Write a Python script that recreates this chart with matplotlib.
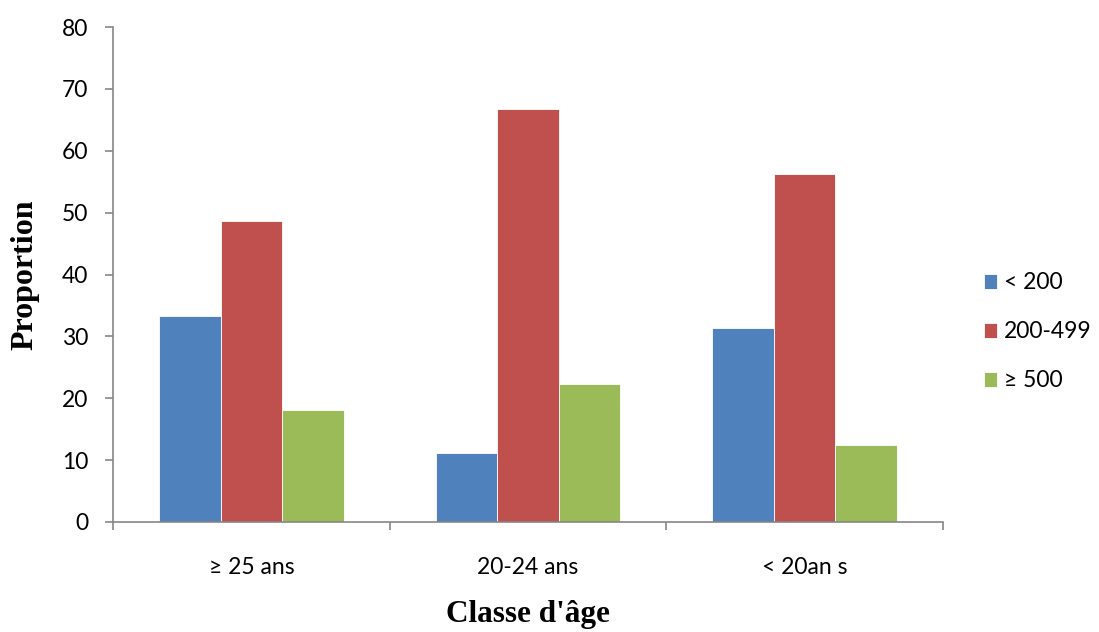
import matplotlib
matplotlib.use("Agg")
import matplotlib.pyplot as plt
import numpy as np

categories = ["≥ 25 ans", "20-24 ans", "< 20an s"]
series_names = ["< 200", "200-499", "≥ 500"]
low = [33.3, 11.1, 31.3]
mid = [48.6, 66.7, 56.2]
high = [18.1, 22.3, 12.5]
yticks = [0, 10, 20, 30, 40, 50, 60, 70, 80]

colors = ["#4F81BD", "#C0504D", "#9BBB59"]
axis_gray = "#868686"
plt.rcParams["font.family"] = ["Lato", "DejaVu Sans"]
plt.rcParams["font.size"] = 16.5
serif = ["Liberation Serif", "DejaVu Serif"]

fig = plt.figure(figsize=(10.99, 6.32), dpi=100)
ax = fig.add_axes([113 / 1099, 110 / 632, 830 / 1099, 495 / 632])

x = np.arange(len(categories))
width = 1 / 4.5
for i, (vals, name) in enumerate(zip([low, mid, high], series_names)):
    ax.bar(x + (i - 1) * width, vals, width, color=colors[i], label=name,
           edgecolor="white", linewidth=0.6)

ax.set_xlim(-0.5, len(categories) - 0.5)
ax.set_ylim(0, 80)
ax.set_yticks(yticks)
ax.set_yticklabels([str(v) for v in yticks])

# category boundaries carry the ticks, labels sit at the centres
ax.set_xticks(np.arange(-0.5, len(categories)))
ax.set_xticklabels([])
ax.set_xticks(x, minor=True)
ax.set_xticklabels(categories, minor=True)
ax.tick_params(axis="x", which="major", length=6, color=axis_gray, width=1.2)
ax.tick_params(axis="x", which="minor", length=0, pad=25)
ax.tick_params(axis="y", length=6, color=axis_gray, width=1.2, pad=12)

for side in ["top", "right"]:
    ax.spines[side].set_visible(False)
for side in ["left", "bottom"]:
    ax.spines[side].set_color(axis_gray)
    ax.spines[side].set_linewidth(1.2)

ax.set_ylabel("Proportion", fontfamily=serif, fontweight="bold", fontsize=23, labelpad=16)
ax.set_xlabel("Classe d'âge", fontfamily=serif, fontweight="bold", fontsize=22.5, labelpad=16)

ax.legend(loc="center left", bbox_to_anchor=(1.024, 0.384), frameon=False,
          handlelength=0.6, handleheight=0.6, handletextpad=0.3,
          labelspacing=1.22)

fig.savefig("out.png", dpi=100)
